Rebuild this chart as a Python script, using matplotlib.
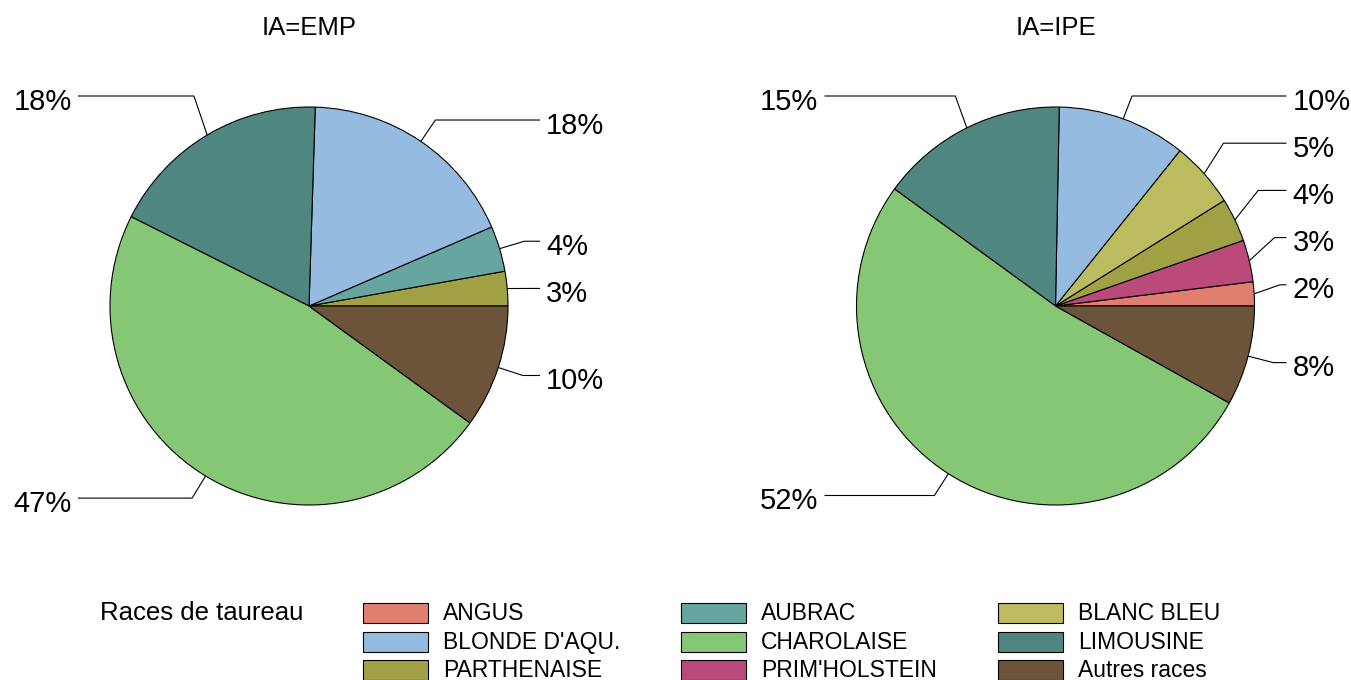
import numpy as np
import matplotlib
matplotlib.use("Agg")
import matplotlib.pyplot as plt
from matplotlib.patches import Rectangle

plt.rcParams['font.family'] = ['Liberation Sans', 'DejaVu Sans']

# ---------------- data ----------------
breeds = ["ANGUS", "AUBRAC", "BLANC BLEU",
          "BLONDE D'AQU.", "CHAROLAISE", "LIMOUSINE",
          "PARTHENAISE", "PRIM'HOLSTEIN", "Autres races"]
breed_colors = {
    "ANGUS": "#E07F6F",
    "AUBRAC": "#66A5A0",
    "BLANC BLEU": "#BBBB60",
    "BLONDE D'AQU.": "#95BBE0",
    "CHAROLAISE": "#85C775",
    "LIMOUSINE": "#4F8680",
    "PARTHENAISE": "#A0A045",
    "PRIM'HOLSTEIN": "#B94A7A",
    "Autres races": "#6B543A",
}

emp_breeds = ["PARTHENAISE", "AUBRAC", "BLONDE D'AQU.", "LIMOUSINE",
              "CHAROLAISE", "Autres races"]
emp_share = [2.8, 3.7, 18.0, 18.1, 47.4, 10.0]

ipe_breeds = ["ANGUS", "PRIM'HOLSTEIN", "PARTHENAISE", "BLANC BLEU",
              "BLONDE D'AQU.", "LIMOUSINE", "CHAROLAISE", "Autres races"]
ipe_share = [1.95, 3.4, 3.55, 5.35, 10.45, 15.3, 51.9, 8.1]

titles = ["IA=EMP", "IA=IPE"]
legend_title = "Races de taureau"

# ---------------- layout ----------------
W, H = 1351, 680
PX = 199.0  # pixels per data unit (pie radius)
fig = plt.figure(figsize=(W / 100, H / 100), dpi=100)


def add_pie(x0, x1, cx, cy, names, shares, title):
    ax = fig.add_axes([x0 / W, 0, (x1 - x0) / W, 1])
    ax.pie(shares, colors=[breed_colors[n] for n in names], startangle=0,
           counterclock=True, radius=1.0,
           wedgeprops=dict(edgecolor="black", linewidth=0.8))
    ax.set_aspect("auto")
    ax.set_xlim(-(cx - x0) / PX, (x1 - cx) / PX)
    ax.set_ylim(-(H - cy) / PX, cy / PX)
    ax.axis("off")

    total = float(np.sum(shares))
    cum = np.cumsum([0] + list(shares)) / total * 360.0
    mids = np.deg2rad((cum[:-1] + cum[1:]) / 2)
    r_elb = 1.13
    gap = 47.2 / PX
    cluster_gap = 66 / PX
    top_row = 210 / PX
    xend = 231 / PX
    items = []
    for i, a in enumerate(mids):
        ex, ey = np.cos(a), np.sin(a)
        bx, by = r_elb * np.cos(a), r_elb * np.sin(a)
        if by > 0.95:
            by = top_row
        side = 1 if ex >= 0 else -1
        items.append(dict(ex=ex, ey=ey, bx=bx, by=by, side=side,
                          txt=f"{shares[i] / total * 100:.0f}%"))
    for side in (1, -1):
        grp = sorted([it for it in items if it["side"] == side],
                     key=lambda d: -d["by"])
        # group labels into clusters of near neighbours, pack from the top
        clusters = []
        for it in grp:
            if clusters and clusters[-1][-1]["by"] - it["by"] < cluster_gap:
                clusters[-1].append(it)
            else:
                clusters.append([it])
        for cl in clusters:
            if len(cl) > 1:
                y0 = cl[0]["by"]
                for k, it in enumerate(cl):
                    it["by"] = y0 - k * gap
    for it in items:
        s = it["side"]
        ax.plot([it["ex"], it["bx"], s * xend], [it["ey"], it["by"], it["by"]],
                color="black", lw=0.8, solid_capstyle="butt")
        ax.text(s * (xend + 6 / PX), it["by"] - 5.5 / PX, it["txt"],
                ha="left" if s > 0 else "right", va="center", fontsize=21)
    fig.text(cx / W, 1 - 28 / H, title, ha="center", va="center",
             fontsize=18.5)


add_pie(0, 680, 309, 306, emp_breeds, emp_share, titles[0])
add_pie(680, W, 1055.5, 306, ipe_breeds, ipe_share, titles[1])

# ---------------- legend ----------------
fig.text(100 / W, 1 - 613.5 / H, legend_title, ha="left", va="center",
         fontsize=18.5)
col_x = [363, 681, 998]
row_top = 603.3
row_pitch = 28.35
for i, name in enumerate(breeds):
    r, c = divmod(i, 3)
    x = col_x[c]
    yt = row_top + r * row_pitch
    fig.add_artist(Rectangle((x / W, 1 - (yt + 20) / H), 65 / W, 20 / H,
                             transform=fig.transFigure,
                             facecolor=breed_colors[name],
                             edgecolor="black", linewidth=0.8))
    fig.text((x + 80) / W, 1 - (yt + 10.5) / H, name, ha="left",
             va="center", fontsize=16.5)

fig.savefig("out.png", dpi=100)
